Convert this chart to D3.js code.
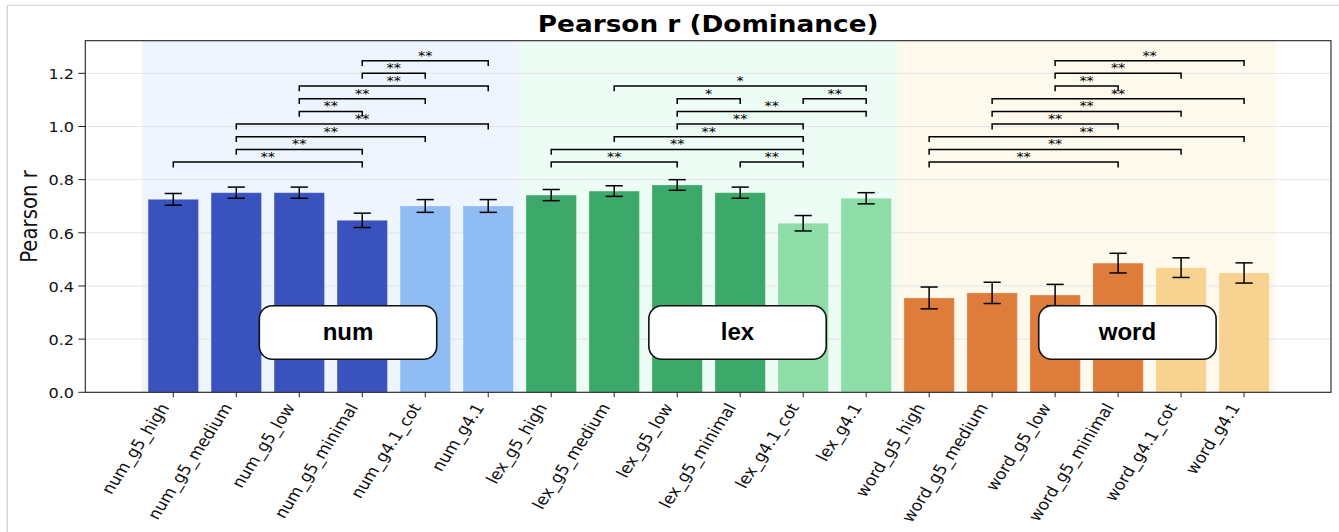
<!DOCTYPE html>
<html>
<head>
<meta charset="utf-8">
<script src="https://cdn.jsdelivr.net/npm/d3@7"></script>
<style>
  body { margin: 0; background: #fff; }
  svg { display: block; }
</style>
</head>
<body>
<svg id="chart" width="1339" height="532"></svg>
<script>
// ---- data ---------------------------------------------------------------
const categories = [
  "num_g5_high", "num_g5_medium", "num_g5_low", "num_g5_minimal", "num_g4.1_cot", "num_g4.1",
  "lex_g5_high", "lex_g5_medium", "lex_g5_low", "lex_g5_minimal", "lex_g4.1_cot", "lex_g4.1",
  "word_g5_high", "word_g5_medium", "word_g5_low", "word_g5_minimal", "word_g4.1_cot", "word_g4.1"
];
const groupNames = ["num", "lex", "word"];

const meanR = [
  0.726, 0.751, 0.751, 0.647, 0.701, 0.701,
  0.742, 0.757, 0.780, 0.751, 0.636, 0.730,
  0.355, 0.374, 0.366, 0.486, 0.469, 0.449
];
const errR = [
  0.022, 0.021, 0.021, 0.027, 0.024, 0.024,
  0.021, 0.020, 0.020, 0.021, 0.029, 0.021,
  0.041, 0.040, 0.040, 0.037, 0.037, 0.038
];

const yTicks = [0.0, 0.2, 0.4, 0.6, 0.8, 1.0, 1.2];

// significance brackets: [from index, to index, tier, label]
const numBrackets = [
  [0, 3, 0, "**"], [1, 3, 1, "**"], [1, 4, 2, "**"], [1, 5, 3, "**"], [2, 3, 4, "**"],
  [2, 4, 5, "**"], [2, 5, 6, "**"], [3, 4, 7, "**"], [3, 5, 8, "**"]
];
const lexBrackets = [
  [6, 8, 0, "**"], [9, 10, 0, "**"], [6, 10, 1, "**"], [7, 10, 2, "**"], [8, 10, 3, "**"],
  [8, 11, 4, "**"], [8, 9, 5, "*"], [10, 11, 5, "**"], [7, 11, 6, "*"]
];
const wordBrackets = [
  [12, 15, 0, "**"], [12, 16, 1, "**"], [12, 17, 2, "**"], [13, 15, 3, "**"], [13, 16, 4, "**"],
  [13, 17, 5, "**"], [14, 15, 6, "**"], [14, 16, 7, "**"], [14, 17, 8, "**"]
];

// ---- styling ------------------------------------------------------------
const groupStyle = {
  num:  { band: "#eef5fe", dark: "#3a52be", light: "#8fbcf2" },
  lex:  { band: "#edfcf5", dark: "#3ca86a", light: "#8edca7" },
  word: { band: "#fef9ed", dark: "#de7c3c", light: "#f8d290" }
};
const SX = 1.15;               // horizontal glyph stretch used for all DejaVu text
const FONT = "'DejaVu Sans', sans-serif";

const svg = d3.select("#chart");
const plot = { left: 85.3, right: 1331, top: 40.7, bottom: 392.3 };

const x = d3.scaleLinear().domain([-1.397, 18.38]).range([plot.left, plot.right]);
const y = d3.scaleLinear().domain([0, 1.3228]).range([plot.bottom, plot.top]);
const barW = x(0.8) - x(0);

// figure frame (top and left hairlines)
svg.append("line").attr("x1", 7.3).attr("x2", 1339).attr("y1", 5.3).attr("y2", 5.3)
  .attr("stroke", "#dcdcdc").attr("stroke-width", 1.2);
svg.append("line").attr("x1", 7.3).attr("x2", 7.3).attr("y1", 5.3).attr("y2", 532)
  .attr("stroke", "#cfcfcf").attr("stroke-width", 1.2);

// stretched text helper
function stretchedText(parent, tx, ty, str, opts) {
  const g = parent.append("g")
    .attr("transform", `translate(${tx},${ty}) scale(${opts.sx ?? SX},1)` + (opts.rotate ? ` rotate(${opts.rotate})` : ""));
  return g.append("text")
    .attr("x", 0).attr("y", 0)
    .attr("text-anchor", opts.anchor || "middle")
    .attr("font-family", opts.family || FONT)
    .attr("font-size", opts.size)
    .attr("font-weight", opts.weight || "normal")
    .attr("fill", opts.fill || "#000")
    .text(str);
}

// group background bands
const groupIdx = groupNames.map(g => categories.map((c, i) => [c, i]).filter(d => d[0].split("_")[0] === g).map(d => d[1]));
svg.append("g").selectAll("rect").data(groupNames).join("rect")
  .attr("x", (g, k) => x(d3.min(groupIdx[k]) - 0.5))
  .attr("width", (g, k) => x(d3.max(groupIdx[k]) + 0.5) - x(d3.min(groupIdx[k]) - 0.5))
  .attr("y", plot.top).attr("height", plot.bottom - plot.top)
  .attr("fill", g => groupStyle[g].band);

// horizontal grid
svg.append("g").selectAll("line").data(yTicks).join("line")
  .attr("x1", plot.left).attr("x2", plot.right)
  .attr("y1", d => y(d)).attr("y2", d => y(d))
  .attr("stroke", "#e4e4e4").attr("stroke-width", 1);

// bars
const bars = categories.map((c, i) => ({
  name: c, i, mean: meanR[i], err: errR[i],
  group: c.split("_")[0], light: c.includes("g4.1")
}));
svg.append("g").selectAll("rect").data(bars).join("rect")
  .attr("x", d => x(d.i) - barW / 2)
  .attr("width", barW)
  .attr("y", d => y(d.mean))
  .attr("height", d => y(0) - y(d.mean))
  .attr("fill", d => d.light ? groupStyle[d.group].light : groupStyle[d.group].dark)
  .attr("stroke", "#ffffff").attr("stroke-opacity", 0.25).attr("stroke-width", 1);

// error bars
const eb = svg.append("g").attr("stroke", "#000").attr("stroke-width", 1.5).attr("fill", "none");
const capHalf = 8.6;
bars.forEach(d => {
  const yt = y(d.mean + d.err), yb = y(d.mean - d.err), cx = x(d.i);
  eb.append("line").attr("x1", cx).attr("x2", cx).attr("y1", yt).attr("y2", yb);
  eb.append("line").attr("x1", cx - capHalf).attr("x2", cx + capHalf).attr("y1", yt).attr("y2", yt);
  eb.append("line").attr("x1", cx - capHalf).attr("x2", cx + capHalf).attr("y1", yb).attr("y2", yb);
});

// significance brackets
const tierBase = 0.866, tierStep = 0.0477, legDrop = 0.02;
const brk = svg.append("g");
[numBrackets, lexBrackets, wordBrackets].forEach(list => {
  list.forEach(([a, b, tier, label]) => {
    const level = tierBase + tier * tierStep;
    const yl = y(level), yd = y(level - legDrop);
    brk.append("path")
      .attr("d", `M${x(a)},${yd}V${yl}H${x(b)}V${yd}`)
      .attr("fill", "none").attr("stroke", "#000").attr("stroke-width", 1.5);
    stretchedText(brk, (x(a) + x(b)) / 2, yl - 1, label, { size: 12.5 });
  });
});

// axes frame
svg.append("rect")
  .attr("x", plot.left).attr("y", plot.top)
  .attr("width", plot.right - plot.left).attr("height", plot.bottom - plot.top)
  .attr("fill", "none").attr("stroke", "#222").attr("stroke-width", 1.1);

// y axis ticks and labels
const yAx = svg.append("g");
yTicks.forEach(t => {
  yAx.append("line").attr("x1", plot.left - 7).attr("x2", plot.left)
    .attr("y1", y(t)).attr("y2", y(t)).attr("stroke", "#222").attr("stroke-width", 1);
  stretchedText(yAx, 74, y(t) + 5.8, t.toFixed(1), { size: 14, anchor: "end", fill: "#111" });
});

// x axis ticks and rotated labels
const xAx = svg.append("g");
categories.forEach((c, i) => {
  xAx.append("line").attr("x1", x(i)).attr("x2", x(i))
    .attr("y1", plot.bottom).attr("y2", plot.bottom + 5).attr("stroke", "#222").attr("stroke-width", 1);
  stretchedText(xAx, x(i) - 3.5, plot.bottom + 15, c, { size: 15.2, anchor: "end", rotate: -60, fill: "#111" });
});

// axis title and chart title
stretchedText(svg, 36.7, (plot.top + plot.bottom) / 2, "Pearson r", { size: 19.7, rotate: -90, fill: "#111" });
stretchedText(svg, (plot.left + plot.right) / 2, 31.7, "Pearson r (Dominance)", { size: 22.9, weight: "bold" });

// group name boxes
const groupLabelAt = [2.774, 8.958, 15.148];
const boxW = 177.4, boxH = 53.6, boxValue = 0.225;
const gl = svg.append("g");
groupNames.forEach((g, k) => {
  const cx = x(groupLabelAt[k]), cy = y(boxValue);
  gl.append("rect")
    .attr("x", cx - boxW / 2).attr("y", cy - boxH / 2)
    .attr("width", boxW).attr("height", boxH)
    .attr("rx", 13).attr("ry", 13)
    .attr("fill", "#fff").attr("stroke", "#111").attr("stroke-width", 1.6);
  gl.append("text")
    .attr("x", cx).attr("y", cy + 7.5)
    .attr("text-anchor", "middle")
    .attr("font-family", "'Liberation Sans', Arial, sans-serif")
    .attr("font-weight", "bold").attr("font-size", 24)
    .text(g);
});
</script>
</body>
</html>
